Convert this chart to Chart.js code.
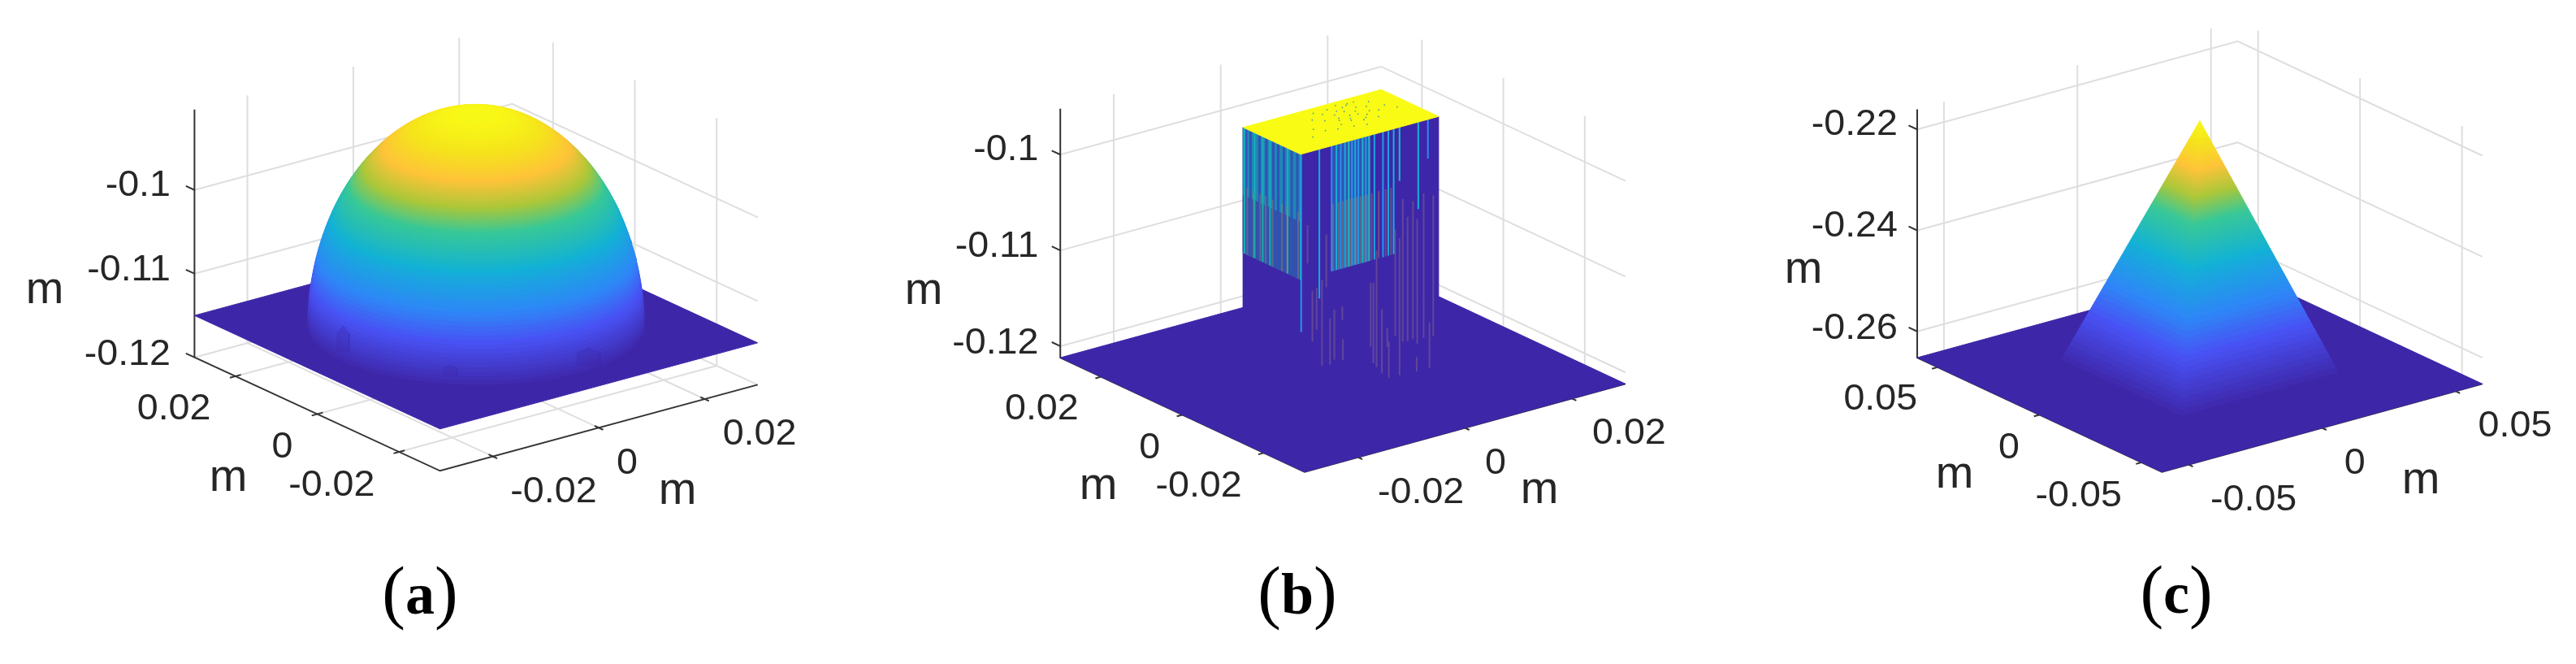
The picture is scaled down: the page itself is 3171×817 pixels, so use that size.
<!DOCTYPE html>
<html>
<head>
<meta charset="utf-8">
<title>Surfaces</title>
<script src="https://cdn.jsdelivr.net/npm/chart.js@4"></script>
<style>
  html, body { margin: 0; padding: 0; background: #fff; }
  #plot { display: block; }
</style>
</head>
<body>
<canvas id="plot" width="3171" height="817"></canvas>
<script>
// tick values
var ticksXY = [-0.02, 0, 0.02];
var ticksXYc = [-0.05, 0, 0.05];
var ticksZa = [-0.12, -0.11, -0.1];
var ticksZb = [-0.12, -0.11, -0.1];
var ticksZc = [-0.26, -0.24, -0.22];
var labelsXY = ['-0.02', '0', '0.02'];
var labelsXYc = ['-0.05', '0', '0.05'];
var labelsZa = ['-0.12', '-0.11', '-0.1'];
var labelsZb = ['-0.12', '-0.11', '-0.1'];
var labelsZc = ['-0.26', '-0.24', '-0.22'];

// (a) dome, read as height / radius pairs
var domeZ = [-0.11500, -0.11448, -0.11396, -0.11345, -0.11293, -0.11241, -0.11189, -0.11137, -0.11086, -0.11034,
    -0.10982, -0.10930, -0.10878, -0.10827, -0.10775, -0.10723, -0.10671, -0.10619, -0.10568, -0.10516,
    -0.10464, -0.10412, -0.10360, -0.10309, -0.10257, -0.10205, -0.10179, -0.10153, -0.10127, -0.10101,
    -0.10076, -0.10050, -0.10024, -0.09998, -0.09972, -0.09946, -0.09920, -0.09894, -0.09868, -0.09842,
    -0.09817, -0.09791, -0.09765, -0.09739, -0.09713, -0.09687, -0.09661, -0.09635, -0.09609, -0.09583,
    -0.09558, -0.09532, -0.09506, -0.09480, -0.09454, -0.09428, -0.09402, -0.09376, -0.09350, -0.09324,
    -0.09299, -0.09273, -0.09247, -0.09221, -0.09195, -0.09169, -0.09143, -0.09117, -0.09091, -0.09065,
    -0.09040, -0.09014, -0.08988, -0.08962, -0.08936, -0.08910];
var domeR = [0.02520, 0.02520, 0.02518, 0.02515, 0.02512, 0.02507, 0.02502, 0.02495, 0.02488, 0.02479,
    0.02469, 0.02458, 0.02446, 0.02433, 0.02419, 0.02404, 0.02388, 0.02370, 0.02351, 0.02331,
    0.02310, 0.02287, 0.02263, 0.02238, 0.02211, 0.02182, 0.02168, 0.02153, 0.02137, 0.02121,
    0.02105, 0.02088, 0.02070, 0.02053, 0.02035, 0.02016, 0.01997, 0.01977, 0.01957, 0.01936,
    0.01915, 0.01893, 0.01871, 0.01848, 0.01824, 0.01800, 0.01775, 0.01749, 0.01722, 0.01695,
    0.01667, 0.01638, 0.01608, 0.01577, 0.01545, 0.01512, 0.01478, 0.01442, 0.01406, 0.01367,
    0.01328, 0.01286, 0.01243, 0.01197, 0.01149, 0.01098, 0.01045, 0.00988, 0.00926, 0.00860,
    0.00787, 0.00706, 0.00613, 0.00501, 0.00355, 0.00001];
// scalloped patches where the dome meets the plate
var patchX = [0.0041, -0.0214, -0.0149];
var patchY = [-0.0222, 0.0048, -0.0130];
var patchWidth = [0.0017, 0.0009, 0.0010];
var patchRise = [0.0021, 0.0030, 0.0012];

// (b) block
var blockX = [0.0042, 0.03];
var blockY = [0.0159, 0.03];
var blockTopZ = -0.1024;
var blockFloorZ = -0.1212;
var streakEdgeZ = -0.1155;
var denseBandX = [0.0100, 0.0172];

var rightStreakX = [0.0043, 0.0077, 0.0100, 0.0109, 0.0117, 0.0125, 0.0132, 0.0138, 0.0144, 0.0150, 0.0158, 0.0164, 0.0170, 0.0180, 0.0196, 0.0206, 0.0216, 0.0227, 0.0262, 0.0280];
var rightStreakLevel = [0.30, 0.36, 0.26, 0.38, 0.28, 0.36, 0.42, 0.28, 0.36, 0.30, 0.40, 0.30, 0.42, 0.33, 0.30, 0.34, 0.38, 0.42, 0.38, 0.25];
var rightStreakEnd = [-0.1210, -0.1180, -0.1155, -0.1155, -0.1155, -0.1155, -0.1155, -0.1155, -0.1155, -0.1155, -0.1155, -0.1155, -0.1155, -0.1155, -0.1155, -0.1155, -0.1155, -0.1080, -0.1115, -0.1065];
var rightTanX = [0.0103, 0.0113, 0.0121, 0.0128, 0.0135, 0.0141, 0.0147, 0.0154, 0.0161, 0.0167, 0.0175, 0.0188, 0.0201, 0.0211];
var leftDarkY = [0.0293, 0.0282, 0.0260, 0.0243, 0.0226, 0.0214, 0.0200, 0.0181, 0.0167];
var leftTealY = [0.0297, 0.0272, 0.0252, 0.0234, 0.0191, 0.0159];
var leftTanY = [0.0290, 0.0275, 0.0258, 0.0245, 0.0228, 0.0205, 0.0192, 0.0165];

var faintX = [0.0055, 0.0064, 0.0072, 0.0082, 0.0090, 0.0097, 0.0105, 0.0120, 0.0121, 0.0173, 0.0178, 0.0184, 0.0194, 0.0204, 0.0207, 0.0219, 0.0227, 0.0233, 0.0242, 0.0252, 0.0260, 0.0259, 0.0272, 0.0283, 0.0290];
var faintTop = [-0.1100, -0.1170, -0.1168, -0.1161, -0.1115, -0.1204, -0.1196, -0.1195, -0.1229, -0.1178, -0.1179, -0.1146, -0.1209, -0.1230, -0.1245, -0.1130, -0.1140, -0.1100, -0.1120, -0.1105, -0.1125, -0.1269, -0.1100, -0.1237, -0.1105];
var faintEnd = [-0.1140, -0.1223, -0.1212, -0.1251, -0.1170, -0.1252, -0.1248, -0.1209, -0.1251, -0.1245, -0.1263, -0.1268, -0.1276, -0.1250, -0.1283, -0.1241, -0.1283, -0.1249, -0.1250, -0.1249, -0.1255, -0.1284, -0.1251, -0.1284, -0.1252];

var speckleX = [0.0142, 0.0155, 0.0168, 0.0173, 0.0181, 0.0187, 0.0193, 0.0198, 0.0204, 0.0209, 0.0215, 0.0221, 0.0226, 0.0233, 0.0240, 0.0120, 0.0131, 0.0150, 0.0160, 0.0176,
    0.0185, 0.0196, 0.0206, 0.0212, 0.0219, 0.0229, 0.0236, 0.0246, 0.0255, 0.0165, 0.0178, 0.0191, 0.0201, 0.0211, 0.0224, 0.0100, 0.0265, 0.0275];
var speckleY = [0.0262, 0.0248, 0.0271, 0.0236, 0.0258, 0.0225, 0.0269, 0.0243, 0.0216, 0.0276, 0.0252, 0.0231, 0.0265, 0.0241, 0.0258, 0.0230, 0.0215, 0.0209, 0.0283, 0.0204,
    0.0282, 0.0198, 0.0289, 0.0222, 0.0280, 0.0213, 0.0284, 0.0235, 0.0272, 0.0221, 0.0244, 0.0232, 0.0261, 0.0240, 0.0284, 0.0205, 0.0246, 0.0228];

// (c) pyramid, read as height / half width pairs
var pyramidZ = [-0.26520, -0.26421, -0.26322, -0.26223, -0.26124, -0.26025, -0.25926, -0.25827, -0.25728, -0.25629,
    -0.25530, -0.25431, -0.25332, -0.25233, -0.25134, -0.25035, -0.24936, -0.24837, -0.24738, -0.24639,
    -0.24540, -0.24441, -0.24342, -0.24243, -0.24144, -0.24045, -0.23996, -0.23946, -0.23897, -0.23847,
    -0.23798, -0.23748, -0.23699, -0.23649, -0.23600, -0.23550, -0.23501, -0.23451, -0.23402, -0.23352,
    -0.23303, -0.23253, -0.23204, -0.23154, -0.23105, -0.23055, -0.23006, -0.22956, -0.22907, -0.22857,
    -0.22808, -0.22758, -0.22709, -0.22659, -0.22610, -0.22560, -0.22511, -0.22461, -0.22412, -0.22362,
    -0.22313, -0.22263, -0.22214, -0.22164, -0.22115, -0.22065, -0.21966, -0.21867, -0.21768, -0.21669,
    -0.21570];
var pyramidHalf = [0.0300, 0.0294, 0.0288, 0.0282, 0.0276, 0.0270, 0.0264, 0.0258, 0.0252, 0.0246,
    0.0240, 0.0234, 0.0228, 0.0222, 0.0216, 0.0210, 0.0204, 0.0198, 0.0192, 0.0186,
    0.0180, 0.0174, 0.0168, 0.0162, 0.0156, 0.0150, 0.0147, 0.0144, 0.0141, 0.0138,
    0.0135, 0.0132, 0.0129, 0.0126, 0.0123, 0.0120, 0.0117, 0.0114, 0.0111, 0.0108,
    0.0105, 0.0102, 0.0099, 0.0096, 0.0093, 0.0090, 0.0087, 0.0084, 0.0081, 0.0078,
    0.0075, 0.0072, 0.0069, 0.0066, 0.0063, 0.0060, 0.0057, 0.0054, 0.0051, 0.0048,
    0.0045, 0.0042, 0.0039, 0.0036, 0.0033, 0.0030, 0.0024, 0.0018, 0.0012, 0.0006,
    0.00001];

// parula stops, and how far up the surface each one is reached
var parulaAt = [0, 0.125, 0.25, 0.38, 0.5, 0.63, 0.76, 0.89, 1];
var parulaRgb = [[62, 38, 168], [72, 82, 244], [46, 135, 247], [18, 177, 214], [55, 200, 151], [171, 199, 57], [254, 195, 56], [245, 229, 27], [249, 251, 21]];
var shadeHeight = [0, 0.2, 0.33, 0.5, 0.65, 0.83, 1];
var shadeLevel = [0, 0.125, 0.25, 0.38, 0.5, 0.76, 1];

var GRID = '#dedede';
var AXIS = '#333333';
var TEXT = '#262626';
var PLATE = 'rgb(62, 38, 168)';
var TAN = 'rgba(165, 130, 90, 0.42)';
var FAINT = 'rgba(150, 120, 130, 0.4)';
var LEFT_BASE = 'rgb(30, 135, 180)';
var LEFT_LOW = 'rgb(52, 82, 165)';
var LEFT_DARK = 'rgb(48, 82, 185)';
var LEFT_TEAL = 'rgb(20, 175, 185)';
var DENSE_BAND = 'rgb(50, 82, 180)';

var panels = {
    a: {
        front: [539, 581], right: [931, 474], left: [236, 440],
        floorZ: -0.12, topZ: -0.0904, pxPerZ: 10400, lim: 0.03, plateZ: -0.115,
        ticks: ticksXY, labels: labelsXY, zTicks: ticksZa, zLabels: labelsZa,
        mZ: [55, 364], mY: [281, 595], mX: [834, 611], caption: [517, 736, 'a']
    },
    b: {
        front: [1606, 582.4], right: [2002, 473], left: [1304.5, 440.4],
        floorZ: -0.1212, topZ: -0.0952, pxPerZ: 11900, lim: 0.03, plateZ: -0.1212,
        ticks: ticksXY, labels: labelsXY, zTicks: ticksZb, zLabels: labelsZb,
        mZ: [1137, 365], mY: [1352, 605], mX: [1895, 610], caption: [1597, 736, 'b']
    },
    c: {
        front: [2664, 582.4], right: [3059.5, 473], left: [2362, 440.4],
        floorZ: -0.2652, topZ: -0.2160, pxPerZ: 6275, lim: 0.06, plateZ: -0.2652,
        ticks: ticksXYc, labels: labelsXYc, zTicks: ticksZc, zLabels: labelsZc,
        mZ: [2220, 339], mY: [2406, 591], mX: [2980, 598], caption: [2679, 735, 'c']
    }
};

var datasets = [];
var texts = [];

function project(p, x, y, z) {
    var u = (x + p.lim) / (2 * p.lim);
    var v = (y + p.lim) / (2 * p.lim);
    return {
        x: p.front[0] + u * (p.right[0] - p.front[0]) + v * (p.left[0] - p.front[0]),
        y: p.front[1] + u * (p.right[1] - p.front[1]) + v * (p.left[1] - p.front[1]) - (z - p.floorZ) * p.pxPerZ
    };
}

function addLine(points, color, width) {
    datasets.push({
        data: points, showLine: true, borderColor: color, borderWidth: width,
        pointRadius: 0, fill: false, tension: 0, order: -datasets.length
    });
}

function addShape(points, color) {
    var closed = points.concat([points[0]]);
    datasets.push({
        data: closed, showLine: true, borderColor: color, borderWidth: 1, backgroundColor: color,
        pointRadius: 0, fill: 'shape', tension: 0, order: -datasets.length
    });
}

function lerpTable(xs, ys, v) {
    for (var i = 1; i < xs.length; i++) {
        if (v <= xs[i]) {
            return ys[i - 1] + (ys[i] - ys[i - 1]) * (v - xs[i - 1]) / (xs[i] - xs[i - 1]);
        }
    }
    return ys[ys.length - 1];
}

function parula(level) {
    var rgb = [0, 1, 2].map(function (k) {
        var col = parulaRgb.map(function (c) { return c[k]; });
        return Math.round(lerpTable(parulaAt, col, level));
    });
    return 'rgb(' + rgb.join(',') + ')';
}

function shade(h) {
    return parula(lerpTable(shadeHeight, shadeLevel, h));
}

function drawBox(p) {
    var lim = p.lim;
    p.ticks.forEach(function (t) {
        addLine([project(p, t, -lim, p.floorZ), project(p, t, lim, p.floorZ), project(p, t, lim, p.topZ)], GRID, 2);
        addLine([project(p, -lim, t, p.floorZ), project(p, lim, t, p.floorZ), project(p, lim, t, p.topZ)], GRID, 2);
    });
    p.zTicks.forEach(function (z) {
        addLine([project(p, -lim, lim, z), project(p, lim, lim, z), project(p, lim, -lim, z)], GRID, 2);
    });

    addLine([project(p, -lim, lim, p.topZ), project(p, -lim, lim, p.floorZ), project(p, -lim, -lim, p.floorZ), project(p, lim, -lim, p.floorZ)], AXIS, 2);

    var d = lim * 0.035;
    p.ticks.forEach(function (t, i) {
        addLine([project(p, t, -lim - d, p.floorZ), project(p, t, -lim + d, p.floorZ)], AXIS, 2);
        addLine([project(p, -lim - d, t, p.floorZ), project(p, -lim + d, t, p.floorZ)], AXIS, 2);
        var onX = project(p, t, -lim, p.floorZ);
        var onY = project(p, -lim, t, p.floorZ);
        texts.push({ s: p.labels[i], x: onX.x + 24, y: onX.y + 43, align: 'left', size: 44, sx: 1.06 });
        texts.push({ s: p.labels[i], x: onY.x - 27, y: onY.y + 40, align: 'right', size: 44, sx: 1.06 });
    });
    p.zTicks.forEach(function (z, i) {
        var at = project(p, -lim, lim, z);
        addLine([project(p, -lim, lim + d * 2, z), at], AXIS, 2);
        texts.push({ s: p.zLabels[i], x: at.x - 26, y: at.y - 3, align: 'right', size: 44, sx: 1.06 });
    });
    [p.mZ, p.mY, p.mX].forEach(function (m) {
        texts.push({ s: 'm', x: m[0], y: m[1] - 6, align: 'center', size: 56, sx: 1 });
    });
    addShape([project(p, -lim, -lim, p.plateZ), project(p, lim, -lim, p.plateZ), project(p, lim, lim, p.plateZ), project(p, -lim, lim, p.plateZ)], PLATE);
}

function drawDome(p) {
    var base = domeZ[0];
    var peak = domeZ[domeZ.length - 1];
    domeZ.forEach(function (z, i) {
        var ring = [];
        for (var deg = 0; deg < 360; deg += 4) {
            var a = deg * Math.PI / 180;
            ring.push(project(p, domeR[i] * Math.cos(a), domeR[i] * Math.sin(a), z));
        }
        addShape(ring, shade((z - base) / (peak - base)));
    });
    // arches in the plate colour, the run across screen is (0.8, -0.6) in x, y
    patchX.forEach(function (x, i) {
        var y = patchY[i], w = patchWidth[i], z = p.plateZ, top = z + patchRise[i];
        addShape([
            project(p, x - 0.8 * w, y + 0.6 * w, z),
            project(p, x - 0.8 * w, y + 0.6 * w, z + patchRise[i] * 0.7),
            project(p, x, y, top),
            project(p, x + 0.8 * w, y - 0.6 * w, z + patchRise[i] * 0.7),
            project(p, x + 0.8 * w, y - 0.6 * w, z)
        ], 'rgba(62, 38, 168, 0.28)');
    });
}

function drawPyramid(p) {
    var base = pyramidZ[0];
    var peak = pyramidZ[pyramidZ.length - 1];
    for (var i = 0; i < pyramidZ.length - 1; i++) {
        var z0 = pyramidZ[i], z1 = pyramidZ[i + 1];
        var w0 = pyramidHalf[i], w1 = pyramidHalf[i + 1];
        var color = shade((z0 - base) / (peak - base));
        // the two faces turned to the viewer
        addShape([project(p, -w0, w0, z0), project(p, -w0, -w0, z0), project(p, -w1, -w1, z1), project(p, -w1, w1, z1)], color);
        addShape([project(p, -w0, -w0, z0), project(p, w0, -w0, z0), project(p, w1, -w1, z1), project(p, -w1, -w1, z1)], color);
    }
}

function drawBlock(p) {
    var x0 = blockX[0], x1 = blockX[1], y0 = blockY[0], y1 = blockY[1];
    var leftMid = -0.1095;

    // left face, solid below the streak edge
    addShape([project(p, x0, y1, blockFloorZ), project(p, x0, y0, blockFloorZ), project(p, x0, y0, blockTopZ), project(p, x0, y1, blockTopZ)], PLATE);
    addShape([project(p, x0, y1, leftMid), project(p, x0, y0, leftMid), project(p, x0, y0, blockTopZ), project(p, x0, y1, blockTopZ)], LEFT_BASE);
    addShape([project(p, x0, y1, streakEdgeZ), project(p, x0, y0, streakEdgeZ), project(p, x0, y0, leftMid), project(p, x0, y1, leftMid)], LEFT_LOW);
    // right face
    addShape([project(p, x0, y0, blockFloorZ), project(p, x1, y0, blockFloorZ), project(p, x1, y0, blockTopZ), project(p, x0, y0, blockTopZ)], PLATE);
    addShape([project(p, denseBandX[0], y0, streakEdgeZ), project(p, denseBandX[1], y0, streakEdgeZ), project(p, denseBandX[1], y0, blockTopZ), project(p, denseBandX[0], y0, blockTopZ)], DENSE_BAND);

    leftDarkY.forEach(function (y) {
        addLine([project(p, x0, y, blockTopZ), project(p, x0, y, streakEdgeZ)], LEFT_DARK, 3);
    });
    leftTealY.forEach(function (y) {
        addLine([project(p, x0, y, blockTopZ), project(p, x0, y, streakEdgeZ)], LEFT_TEAL, 2);
    });
    leftTanY.forEach(function (y) {
        addLine([project(p, x0, y, leftMid + 0.001), project(p, x0, y, streakEdgeZ)], TAN, 2);
    });
    rightStreakX.forEach(function (x, i) {
        addLine([project(p, x, y0, blockTopZ), project(p, x, y0, rightStreakEnd[i])], parula(rightStreakLevel[i]), 2);
    });
    rightTanX.forEach(function (x) {
        addLine([project(p, x, y0, -0.1085), project(p, x, y0, streakEdgeZ)], TAN, 2);
    });
    faintX.forEach(function (x, i) {
        addLine([project(p, x, y0, faintTop[i]), project(p, x, y0, faintEnd[i])], FAINT, 2);
    });

    addShape([project(p, x0, y0, blockTopZ), project(p, x1, y0, blockTopZ), project(p, x1, y1, blockTopZ), project(p, x0, y1, blockTopZ)], parula(1));
    datasets.push({
        data: speckleX.map(function (x, i) { return project(p, x, speckleY[i], blockTopZ); }),
        showLine: false, pointRadius: 0.9, pointBorderWidth: 0, pointBackgroundColor: '#4f9f8f', order: -datasets.length
    });
}

drawBox(panels.a);
drawDome(panels.a);
drawBox(panels.b);
drawBlock(panels.b);
drawBox(panels.c);
drawPyramid(panels.c);

var labelPlugin = {
    id: 'labelPlugin',
    afterDraw: function (chart) {
        var ctx = chart.ctx;
        ctx.save();
        ctx.textBaseline = 'middle';
        ctx.fillStyle = TEXT;
        texts.forEach(function (t) {
            ctx.save();
            ctx.font = t.size + 'px "Liberation Sans"';
            ctx.textAlign = t.align;
            ctx.translate(t.x, t.y);
            ctx.scale(t.sx, 1);
            ctx.fillText(t.s, 0, 0);
            ctx.restore();
        });
        ['a', 'b', 'c'].forEach(function (key) {
            var c = panels[key].caption;
            var plain = '86px "Liberation Serif"';
            var bold = 'bold 72px "Liberation Serif"';
            ctx.fillStyle = '#000';
            ctx.textAlign = 'left';
            ctx.font = plain;
            var paren = ctx.measureText('(').width;
            ctx.font = bold;
            var mid = ctx.measureText(c[2]).width;
            var x = c[0] - (paren * 2 + mid) / 2;
            ctx.font = plain;
            ctx.fillText('(', x, c[1] - 2);
            ctx.fillText(')', x + paren + mid, c[1] - 2);
            ctx.font = bold;
            ctx.fillText(c[2], x + paren, c[1]);
        });
        ctx.restore();
    }
};

new Chart(document.getElementById('plot'), {
    type: 'scatter',
    data: { datasets: datasets },
    options: {
        responsive: false,
        animation: false,
        devicePixelRatio: 1,
        layout: { padding: 0 },
        plugins: { legend: { display: false }, tooltip: { enabled: false } },
        scales: {
            x: { type: 'linear', min: 0, max: 3171, display: false },
            y: { type: 'linear', min: 0, max: 817, reverse: true, display: false }
        }
    },
    plugins: [labelPlugin]
});
</script>
</body>
</html>
